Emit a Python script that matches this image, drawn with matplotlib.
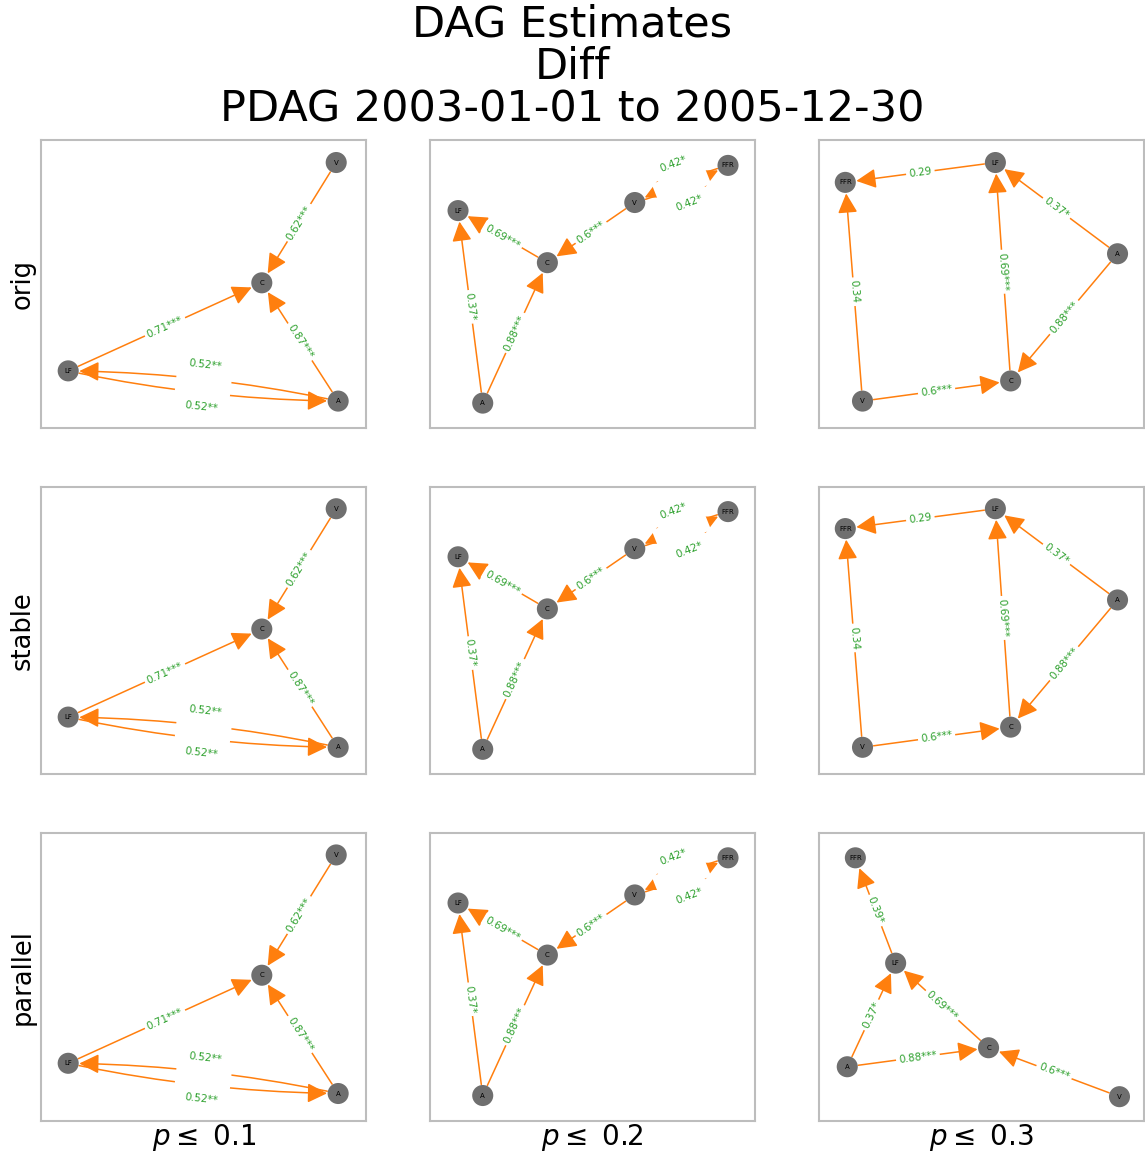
import numpy as np
import matplotlib
matplotlib.use("Agg")
import matplotlib.pyplot as plt
from matplotlib.patches import FancyArrowPatch

# ---------------------------------------------------------------------------
# data: estimated edges (source -> target), coefficient and significance stars
# ---------------------------------------------------------------------------
row_names = ["orig", "stable", "parallel"]
p_levels = [0.1, 0.2, 0.3]

g1_src = ["V", "LF", "A", "A", "LF"]
g1_dst = ["C", "C", "C", "LF", "A"]
g1_coef = [0.62, 0.71, 0.87, 0.52, 0.52]
g1_star = ["***", "***", "***", "**", "**"]

g2_src = ["C", "V", "A", "A", "V", "FFR"]
g2_dst = ["LF", "C", "LF", "C", "FFR", "V"]
g2_coef = [0.69, 0.6, 0.37, 0.88, 0.42, 0.42]
g2_star = ["***", "***", "*", "***", "*", "*"]

g3_src = ["LF", "A", "C", "A", "V", "V"]
g3_dst = ["FFR", "LF", "LF", "C", "FFR", "C"]
g3_coef = [0.29, 0.37, 0.69, 0.88, 0.34, 0.6]
g3_star = ["", "*", "***", "***", "", "***"]

g4_src = ["LF", "A", "C", "A", "V"]
g4_dst = ["FFR", "LF", "LF", "C", "C"]
g4_coef = [0.39, 0.37, 0.69, 0.88, 0.6]
g4_star = ["*", "*", "***", "***", "***"]

# node layouts (axes fraction) used for drawing each graph
lay1 = {"V": (0.908, 0.923), "C": (0.679, 0.505), "LF": (0.083, 0.199), "A": (0.914, 0.094)}
lay2 = {"FFR": (0.917, 0.913), "V": (0.630, 0.784), "LF": (0.086, 0.756),
        "C": (0.361, 0.575), "A": (0.162, 0.087)}
lay3 = {"LF": (0.543, 0.923), "FFR": (0.081, 0.854), "A": (0.919, 0.606),
        "V": (0.134, 0.094), "C": (0.590, 0.164)}
lay4 = {"FFR": (0.112, 0.913), "LF": (0.236, 0.547), "A": (0.087, 0.187),
        "C": (0.522, 0.253), "V": (0.925, 0.083)}

g1 = (g1_src, g1_dst, g1_coef, g1_star, lay1)
g2 = (g2_src, g2_dst, g2_coef, g2_star, lay2)
g3 = (g3_src, g3_dst, g3_coef, g3_star, lay3)
g4 = (g4_src, g4_dst, g4_coef, g4_star, lay4)
grid = [[g1, g2, g3], [g1, g2, g3], [g1, g2, g4]]

EDGE_C = "#ff7f0e"
LABEL_C = "#2ca02c"
NODE_C = "#6f6f6f"


def draw_graph(ax, g):
    src, dst, coef, star, lay = g
    bb = ax.get_window_extent()
    W, H = bb.width, bb.height
    ax.set_xlim(0, W)
    ax.set_ylim(0, H)
    pos = {k: np.array([v[0] * W, v[1] * H]) for k, v in lay.items()}
    pairs = set(zip(src, dst))
    done = set()

    # nodes
    for k, p in pos.items():
        ax.scatter(p[0], p[1], s=230, color=NODE_C, zorder=3, edgecolors="none")
        ax.text(p[0], p[1], k, fontsize=5, ha="center", va="center", zorder=4)

    for s, d, c, st in zip(src, dst, coef, star):
        p1, p2 = pos[s], pos[d]
        bidir = (d, s) in pairs
        rad = 0.05 if bidir else 0.0
        arr = FancyArrowPatch(p1, p2, arrowstyle="-|>,head_length=0.6,head_width=0.3",
                              connectionstyle=f"arc3,rad={rad}", mutation_scale=20,
                              shrinkA=8, shrinkB=8, color=EDGE_C, lw=1.1, zorder=1)
        ax.add_patch(arr)
        dx, dy = p2 - p1
        mid = (p1 + p2) / 2
        ang = np.degrees(np.arctan2(dy, dx))
        if ang > 90:
            ang -= 180
        if ang < -90:
            ang += 180
        if bidir:
            n = np.array([dy, -dx]) / np.hypot(dx, dy)
            lab_pos = mid + n * 21
            key = tuple(sorted((s, d)))
            if key not in done:
                done.add(key)
                ax.text(mid[0], mid[1], " " * 14, fontsize=7, rotation=ang,
                        rotation_mode="anchor", ha="center", va="center", zorder=2,
                        bbox=dict(boxstyle="square,pad=0.6", fc="white", ec="none"))
        else:
            lab_pos = mid
        ax.text(lab_pos[0], lab_pos[1], f"{c:g}{st}", fontsize=7.5, color=LABEL_C,
                rotation=ang, rotation_mode="anchor", ha="center", va="center", zorder=2,
                bbox=dict(boxstyle="round,pad=0.2", fc="white", ec="white"))


fig, axes = plt.subplots(3, 3, figsize=(11.45, 11.6), dpi=100)
plt.subplots_adjust(left=0.036, right=0.999, top=0.879, bottom=0.034,
                    wspace=0.197, hspace=0.203)

for i in range(3):
    for j in range(3):
        ax = axes[i, j]
        ax.set_xticks([])
        ax.set_yticks([])
        for sp in ax.spines.values():
            sp.set_color("#bdbdbd")
            sp.set_linewidth(1.5)
        draw_graph(ax, grid[i][j])
        if j == 0:
            ax.set_ylabel(row_names[i], fontsize=18.5, labelpad=4)
        if i == 2:
            ax.set_xlabel(r"$p\leq$ " + str(p_levels[j]), fontsize=20, labelpad=1)

fig.suptitle("DAG Estimates\nDiff\nPDAG 2003-01-01 to 2005-12-30",
             fontsize=31, y=0.997, va="top", linespacing=1.02)

fig.savefig("out.png", dpi=100)
